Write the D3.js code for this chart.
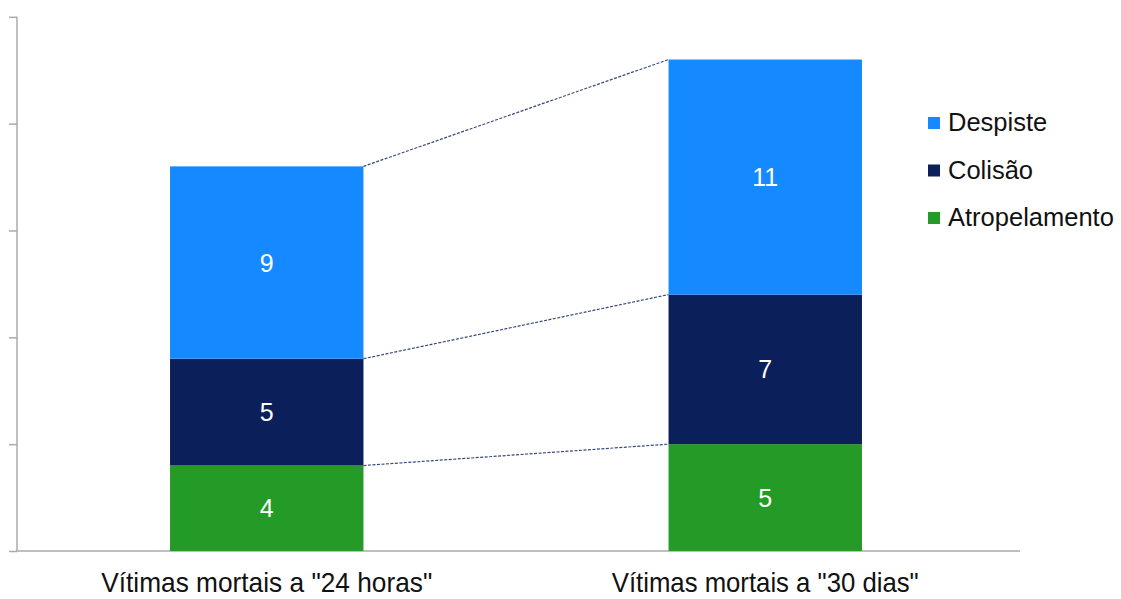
<!DOCTYPE html>
<html><head><meta charset="utf-8">
<script src="https://cdn.jsdelivr.net/npm/d3@7"></script>
<style>body{margin:0;background:#fff}svg{display:block}text{font-family:"Liberation Sans",Arial,sans-serif}</style>
</head><body><svg id="c" width="1121" height="599"></svg>
<script>
const categories = ['Vítimas mortais a "24 horas"', 'Vítimas mortais a "30 dias"'];
const seriesNames = ["Atropelamento", "Colisão", "Despiste"];
const atropelamento = [4, 5];
const colisao = [5, 7];
const despiste = [9, 11];
const yTicks = [0, 5, 10, 15, 20, 25];
const colors = {"Atropelamento": "#239B26", "Colisão": "#0B1F5B", "Despiste": "#1589FF"};

const svg = d3.select("#c");
const rows = categories.map((c, i) => ({cat: c, "Atropelamento": atropelamento[i], "Colisão": colisao[i], "Despiste": despiste[i]}));
const stack = d3.stack().keys(seriesNames)(rows);

const x = d3.scaleBand().domain(categories).range([17, 1015]).paddingInner(0.612).paddingOuter(0.307);
const y = d3.scaleLinear().domain([0, 25]).range([551, 16.8]);

// y axis
const ya = svg.append("g").attr("transform", "translate(17,0)")
  .call(d3.axisLeft(y).tickValues(yTicks).tickSize(8).tickFormat(""));
ya.select(".domain").attr("stroke", "#aaa").attr("stroke-width", 1.5).attr("d", `M0,${y(25)}V${y(0)}`);
ya.selectAll(".tick line").attr("stroke", "#aaa").attr("stroke-width", 1.5);

// x axis line
svg.append("line").attr("x1", 17).attr("x2", 1020).attr("y1", y(0)).attr("y2", y(0))
  .attr("stroke", "#aaa").attr("stroke-width", 1.5);

// connector lines
stack.forEach(s => {
  const a = s[0], b = s[1];
  svg.append("line")
    .attr("x1", x(categories[0]) + x.bandwidth()).attr("y1", y(a[1]))
    .attr("x2", x(categories[1])).attr("y2", y(b[1]))
    .attr("stroke", "#3a4a7a").attr("stroke-width", 1.2).attr("stroke-dasharray", "3,1.5");
});

// bars
stack.forEach(s => {
  const g = svg.append("g");
  g.selectAll("rect").data(s).join("rect")
    .attr("x", d => x(d.data.cat)).attr("width", x.bandwidth())
    .attr("y", d => y(d[1])).attr("height", d => y(d[0]) - y(d[1]))
    .attr("fill", colors[s.key]);
  g.selectAll("text").data(s).join("text")
    .attr("x", d => x(d.data.cat) + x.bandwidth() / 2)
    .attr("y", d => (y(d[0]) + y(d[1])) / 2)
    .attr("dy", "0.36em").attr("text-anchor", "middle")
    .attr("fill", "#fff").attr("font-size", 25)
    .text(d => d[1] - d[0]);
});

// category labels (condensed like the reference)
const labelWidths = [331, 307];
svg.selectAll(".cl").data(categories).join("text").attr("class", "cl")
  .attr("x", (d, i) => x(d) + x.bandwidth() / 2 - labelWidths[i] / 2).attr("y", 592)
  .attr("font-size", 28).attr("fill", "#111")
  .attr("textLength", (d, i) => labelWidths[i]).attr("lengthAdjust", "spacingAndGlyphs")
  .text(d => d);

// legend
const legendOrder = ["Despiste", "Colisão", "Atropelamento"];
const lg = svg.selectAll(".lg").data(legendOrder).join("g").attr("class", "lg")
  .attr("transform", (d, i) => `translate(928,${122 + i * 47.5})`);
lg.append("rect").attr("x", 0).attr("y", -5).attr("width", 12).attr("height", 12).attr("fill", d => colors[d]);
lg.append("text").attr("x", 20).attr("y", 0).attr("dy", "0.36em").attr("font-size", 25.5).attr("fill", "#111").text(d => d);
</script></body></html>
